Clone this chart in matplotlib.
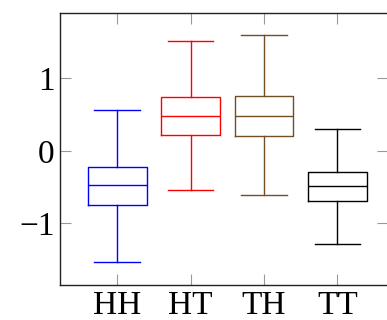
import matplotlib.pyplot as plt

# Box statistics
labels = ['HH', 'HT', 'TH', 'TT']
whislo = [-1.535, -0.547, -0.616, -1.278]
q1 = [-0.745, 0.221, 0.207, -0.690]
med = [-0.473, 0.474, 0.474, -0.487]
q3 = [-0.225, 0.740, 0.749, -0.290]
whishi = [0.566, 1.513, 1.591, 0.303]
colors = ['#0000ff', '#ff0000', '#734d26', '#000000']

plt.rcParams['font.family'] = ['Liberation Serif', 'DejaVu Serif']

fig = plt.figure(figsize=(3.87, 3.20), dpi=100)
ax = fig.add_axes([60 / 387, 1 - 285 / 320, 328 / 387, 272 / 320])

stats = []
for i in range(len(labels)):
    stats.append({'label': labels[i], 'whislo': whislo[i], 'q1': q1[i],
                  'med': med[i], 'q3': q3[i], 'whishi': whishi[i],
                  'fliers': []})

bp = ax.bxp(stats, positions=range(1, 5), widths=0.8, capwidths=0.62,
            showfliers=False, patch_artist=False)

for i, c in enumerate(colors):
    bp['boxes'][i].set(color=c, linewidth=1.0)
    bp['medians'][i].set(color=c, linewidth=1.0)
    for j in (2 * i, 2 * i + 1):
        bp['whiskers'][j].set(color=c, linewidth=1.0)
        bp['caps'][j].set(color=c, linewidth=1.0)

ax.set_xlim(0.22, 4.69)
ax.set_ylim(-1.85, 1.90)
ax.set_yticks([-1, 0, 1])
ax.set_xticks(range(1, 5))
ax.set_xticklabels(labels)

ax.tick_params(direction='in', length=8, width=0.8, color='#999999',
               labelsize=24, top=True, right=True, pad=4)
for s in ax.spines.values():
    s.set_linewidth(1.0)
    s.set_color('#222222')

plt.savefig('out.png', dpi=100)
